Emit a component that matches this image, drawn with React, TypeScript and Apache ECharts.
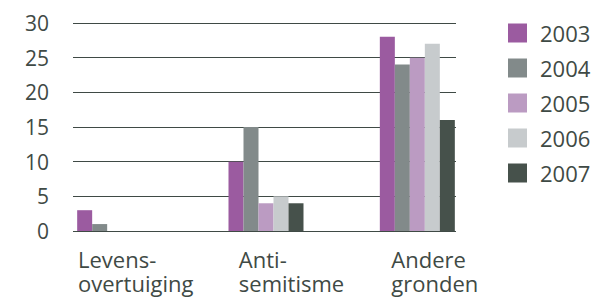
import React, { useEffect, useRef } from "react";
import * as echarts from "echarts";

const categories = ["Levens-\novertuiging", "Anti-\nsemitisme", "Andere\ngronden"];
const years = ["2003", "2004", "2005", "2006", "2007"];
const v2003 = [3, 10, 28];
const v2004 = [1, 15, 24];
const v2005 = [0, 4, 25];
const v2006 = [0, 5, 27];
const v2007 = [0, 4, 16];
const yTicks = [0, 5, 10, 15, 20, 25, 30];

const colors = ["#9b5ba0", "#828a8a", "#bb9bc2", "#c7cbcd", "#46514b"];
const seriesValues = [v2003, v2004, v2005, v2006, v2007];
const TEXT = "#3f4a45";
const FONT = "Open Sans";

export default function App() {
  const ref = useRef<HTMLDivElement>(null);
  useEffect(() => {
    if (!ref.current) return;
    const chart = echarts.init(ref.current, undefined, { renderer: "svg" });
    const pads = [42, 51, 35];
    const rich: any = {};
    pads.forEach((p, i) => {
      rich["c" + i] = {
        align: "left",
        padding: [0, 0, 0, p],
        fontSize: 22,
        fontFamily: FONT,
        color: TEXT,
        lineHeight: 24,
      };
    });
    chart.setOption({
      animation: false,
      grid: [
        { left: 73, right: 143, top: 23, bottom: 68 },
        { left: 39, right: 106, top: 23, bottom: 68 },
      ],
      legend: {
        orient: "vertical",
        left: 503,
        top: 17,
        icon: "rect",
        itemWidth: 19,
        itemHeight: 19,
        itemGap: 13,
        textStyle: {
          fontSize: 22,
          lineHeight: 19,
          fontFamily: FONT,
          color: TEXT,
          padding: [0, 0, 0, 8],
        },
        data: years,
      },
      xAxis: [
        {
          type: "category",
          gridIndex: 0,
          data: categories,
          show: false,
        },
        {
          type: "category",
          gridIndex: 1,
          data: categories,
          axisLine: { show: false },
          axisTick: { show: false },
          axisLabel: {
            interval: 0,
            hideOverlap: false,
            margin: 16,
            align: "center",
            formatter: (val: string, idx: number) =>
              val
                .split("\n")
                .map((line) => `{c${idx}|${line}}`)
                .join("\n"),
            rich,
          },
        },
      ],
      yAxis: [
        {
          type: "value",
          gridIndex: 0,
          min: 0,
          max: 30,
          interval: 5,
          axisLine: { show: false },
          axisTick: { show: false },
          splitLine: { show: true, lineStyle: { color: TEXT, width: 1 } },
          axisLabel: {
            margin: 24,
            fontSize: 21,
            fontFamily: FONT,
            color: TEXT,
            verticalAlign: "middle",
            padding: [0, 0, 6, 0],
            formatter: (v: number) => (yTicks.includes(v) ? String(v) : ""),
          },
        },
        {
          type: "value",
          gridIndex: 1,
          min: 0,
          max: 30,
          interval: 5,
          show: false,
          splitLine: { show: false },
        },
      ],
      series: years.map((y, i) => ({
        name: y,
        type: "bar",
        xAxisIndex: 1,
        yAxisIndex: 1,
        data: seriesValues[i],
        barWidth: 15,
        barGap: "0%",
        itemStyle: { color: colors[i] },
      })),
    });
    return () => chart.dispose();
  }, []);
  return <div ref={ref} style={{ width: 599, height: 299, marginLeft: -8, marginTop: -8 }} />;
}
